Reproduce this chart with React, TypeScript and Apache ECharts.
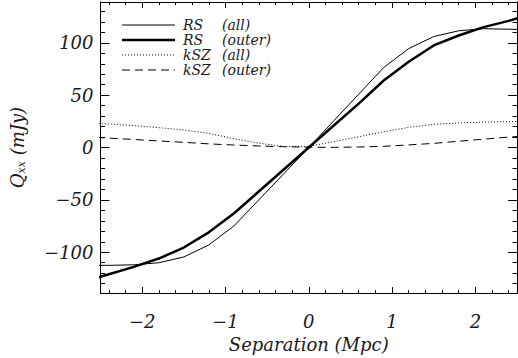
import React, { useEffect, useRef } from "react";
import * as echarts from "echarts";

const separation = [-2.7, -2.4, -2.1, -1.8, -1.5, -1.2, -0.9, -0.6, -0.3, 0, 0.3, 0.6, 0.9, 1.2, 1.5, 1.8, 2.1, 2.4, 2.7];
const rsAll = [-112.5, -112.5, -112, -110, -104.5, -93, -75, -50, -25, 0, 25.5, 51, 76.5, 94.5, 106, 111.5, 113.5, 113, 112.5];
const rsOuter = [-128, -121, -114, -106, -95.5, -81, -63, -42, -21, 0, 21, 42, 64, 82, 97.5, 107, 115, 121, 128];
const kszAll = [23.5, 22.5, 21, 19, 16.8, 13.5, 8.5, 4.2, 1, 1.2, 5.6, 10.3, 15, 19.3, 22.2, 23.5, 24.3, 24.8, 25.2];
const kszOuter = [10.5, 9, 7.7, 6.3, 5, 3.5, 2.4, 1.5, 0.8, 0.3, 0.2, 0.5, 1.2, 2.5, 4, 6, 8, 10, 11.5];

const xMajor = [-2, -1, 0, 1, 2];
const xMinor = [-2.4, -2.2, -1.8, -1.6, -1.4, -1.2, -0.8, -0.6, -0.4, -0.2, 0.2, 0.4, 0.6, 0.8, 1.2, 1.4, 1.6, 1.8, 2.2, 2.4];
const yMajor = [-100, -50, 0, 50, 100];
const yMinor = [-130, -120, -110, -90, -80, -70, -60, -40, -30, -20, -10, 10, 20, 30, 40, 60, 70, 80, 90, 110, 120, 130];

const legendNames = ["RS", "RS", "kSZ", "kSZ"];
const legendTags = ["(all)", "(outer)", "(all)", "(outer)"];

const X_MIN = -2.5, X_MAX = 2.5, Y_MIN = -139, Y_MAX = 139;
const FONT = "DejaVu Serif";
const TEXT_COLOR = "#1a1a1a";

function pairs(ys: number[]) {
  return separation.map((x, i) => [x, ys[i]]);
}

export default function App() {
  const ref = useRef<HTMLDivElement>(null);
  useEffect(() => {
    if (!ref.current) return;
    const chart = echarts.init(ref.current, null, { renderer: "svg" });
    const lineStyle = { color: "#000", width: 1 };
    const fmt = (v: number) => (v < 0 ? "\u2212" + Math.abs(v) : String(v));
    const mkX = (position: string, ticks: number[], len: number, labels: boolean, name?: string) => ({
      type: "value",
      position,
      min: X_MIN,
      max: X_MAX,
      gridIndex: 0,
      axisLine: { show: true, onZero: false, lineStyle },
      axisTick: { show: true, inside: true, length: len, customValues: ticks, lineStyle },
      axisLabel: labels
        ? { show: true, customValues: xMajor, margin: 19, color: TEXT_COLOR, fontFamily: FONT, fontStyle: "italic", fontSize: 18, formatter: fmt }
        : { show: false },
      splitLine: { show: false },
      name: name || "",
      nameLocation: "middle",
      nameGap: 37,
      nameTextStyle: { color: TEXT_COLOR, fontFamily: FONT, fontStyle: "italic", fontSize: 18 },
    });
    const mkY = (position: string, ticks: number[], len: number, labels: boolean, withName?: boolean) => ({
      type: "value",
      position,
      min: Y_MIN,
      max: Y_MAX,
      gridIndex: 0,
      axisLine: { show: true, onZero: false, lineStyle },
      axisTick: { show: true, inside: true, length: len, customValues: ticks, lineStyle },
      axisLabel: labels
        ? { show: true, customValues: yMajor, margin: 7, color: TEXT_COLOR, fontFamily: FONT, fontStyle: "italic", fontSize: 18, formatter: fmt }
        : { show: false },
      splitLine: { show: false },
      name: withName ? "{a|Q}{b|xx}{a| (mJy)}" : "",
      nameLocation: "middle",
      nameRotate: 90,
      nameGap: 74,
      nameTextStyle: {
        color: TEXT_COLOR,
        fontFamily: FONT,
        fontStyle: "italic",
        fontSize: 18,
        rich: {
          a: { fontFamily: FONT, fontStyle: "italic", fontSize: 18, color: TEXT_COLOR },
          b: { fontFamily: FONT, fontStyle: "italic", fontSize: 11, color: TEXT_COLOR, verticalAlign: "bottom", padding: [8, 0, 0, 0] },
        },
      },
    });

    const legendY = [25, 40, 55, 70];
    const legendStyles: any[] = [
      { stroke: "#000", lineWidth: 1 },
      { stroke: "#000", lineWidth: 2.5 },
      { stroke: "#000", lineWidth: 1, lineDash: [1, 2] },
      { stroke: "#000", lineWidth: 1, lineDash: [8, 5] },
    ];
    const graphics: any[] = [];
    legendY.forEach((y, i) => {
      graphics.push({ type: "line", shape: { x1: 122, y1: y, x2: 175, y2: y }, style: legendStyles[i] });
      graphics.push({ type: "text", x: 183, y, style: { text: legendNames[i], fill: TEXT_COLOR, font: `italic 14px '${FONT}'`, lineHeight: 13, verticalAlign: "middle" } });
      graphics.push({ type: "text", x: 222, y, style: { text: legendTags[i], fill: TEXT_COLOR, font: `italic 14px '${FONT}'`, lineHeight: 13, verticalAlign: "middle" } });
    });

    chart.setOption({
      animation: false,
      backgroundColor: "#fff",
      grid: { left: 99, right: 1, top: 2, bottom: 62, containLabel: false },
      xAxis: [
        mkX("bottom", xMajor, 6, true, "Separation (Mpc)"),
        mkX("bottom", xMinor, 3, false),
        mkX("top", xMajor, 6, false),
        mkX("top", xMinor, 3, false),
      ],
      yAxis: [
        mkY("left", yMajor, 9, true, true),
        mkY("left", yMinor, 4.5, false),
        mkY("right", yMajor, 9, false),
        mkY("right", yMinor, 4.5, false),
      ],
      graphic: graphics,
      series: [
        { type: "line", name: "RS (all)", data: pairs(rsAll), showSymbol: false, symbol: "none", lineStyle: { color: "#000", width: 1 }, xAxisIndex: 0, yAxisIndex: 0 },
        { type: "line", name: "RS (outer)", data: pairs(rsOuter), showSymbol: false, symbol: "none", lineStyle: { color: "#000", width: 2.5 }, xAxisIndex: 0, yAxisIndex: 0 },
        { type: "line", name: "kSZ (all)", data: pairs(kszAll), showSymbol: false, symbol: "none", lineStyle: { color: "#000", width: 1, type: [1, 2] }, xAxisIndex: 0, yAxisIndex: 0 },
        { type: "line", name: "kSZ (outer)", data: pairs(kszOuter), showSymbol: false, symbol: "none", lineStyle: { color: "#000", width: 1, type: [8, 5] }, xAxisIndex: 0, yAxisIndex: 0 },
      ],
    });
    return () => chart.dispose();
  }, []);
  return <div ref={ref} style={{ width: 518, height: 358, position: "absolute", left: 0, top: 0 }} />;
}
